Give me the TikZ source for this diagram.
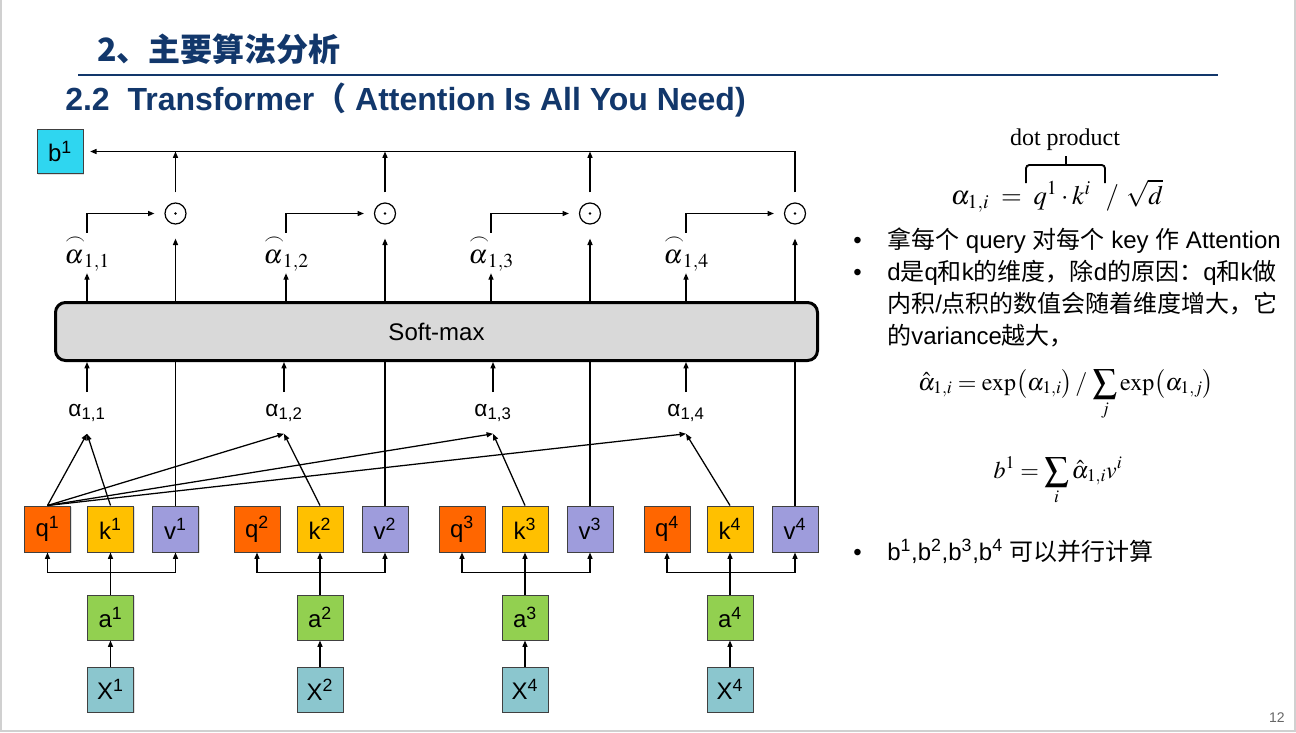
\documentclass[tikz,border=0pt]{standalone}
\usepackage{mathptmx}
\usepackage[no-math]{fontspec}
\setmainfont{Liberation Sans}
\newfontfamily\cjk{Noto Sans CJK SC}
\newfontfamily\tms{Liberation Serif}
\usetikzlibrary{arrows.meta,shadows}
\definecolor{navy}{HTML}{12376B}
\definecolor{bcol}{HTML}{2FD6F0}
\definecolor{qcol}{HTML}{FF6600}
\definecolor{kcol}{HTML}{FFC000}
\definecolor{vcol}{HTML}{9E9CDC}
\definecolor{acol}{HTML}{92D050}
\definecolor{xcol}{HTML}{8BC6CE}
\definecolor{smcol}{HTML}{D9D9D9}
\definecolor{framec}{HTML}{D0D0D0}
\newcommand\zh[1]{{\cjk #1}}
\tikzset{
  box/.style={draw=black!75, line width=0.75pt, minimum width=34.5pt, minimum height=34.5pt,
    inner sep=0pt, font=\fontsize{18}{20}\selectfont,
    drop shadow={shadow xshift=0.8pt, shadow yshift=-0.8pt, opacity=0.25}},
  arr/.style={-{Triangle[length=4.8pt,width=3.8pt]}, line width=0.95pt},
  odot/.style={circle, draw, line width=0.9pt, minimum size=15.75pt, inner sep=0pt,
    path picture={\fill (path picture bounding box.center) circle (1.1pt);}},
  alab/.style={minimum height=30.75pt, inner sep=0pt, font=\fontsize{17}{20}\selectfont},
  hlab/.style={minimum height=30pt, inner sep=0pt, font=\fontsize{20}{22}\selectfont},
  rtext/.style={anchor=base west, inner sep=0pt, font=\fontsize{18}{20}\selectfont},
}
\begin{document}
\begin{tikzpicture}[x=0.75pt,y=-0.75pt]
\useasboundingbox (0,0) rectangle (1296,732);
\draw[framec, line width=1.8pt] (1,0) -- (1,731) -- (1295,731) -- (1295,0);
% titles
\node[anchor=base west, inner sep=0pt, text=navy, font=\cjk\bfseries\fontsize{24}{28}\selectfont] (title) at (97,61) {2、主要算法分析};
\draw[navy, line width=1.5pt] (78,75) -- (1218,75);
\node[anchor=base west, inner sep=0pt, text=navy, font=\bfseries\fontsize{24}{28}\selectfont] (subtitle) at (65,110) {2.2\ \ Transformer{\cjk（} Attention Is All You Need)};
% b1
\node[box, fill=bcol, minimum height=33pt] (b1) at (60,151.5) {b\textsuperscript{1}};
% groups
\foreach \i/\qx/\xl/\ax/\hx in {1/47.5/1/87/87, 2/257/2/284/286, 3/462/4/493/491, 4/667/4/686/686} {
  \node[box, fill=qcol] (q\i) at (\qx,529) {q\textsuperscript{\i}};
  \node[box, fill=kcol] (k\i) at ({\qx+63},529) {k\textsuperscript{\i}};
  \node[box, fill=vcol] (v\i) at ({\qx+128},529) {v\textsuperscript{\i}};
  \node[box, fill=acol, minimum height=33.75pt] (a\i) at ({\qx+63},617.5) {a\textsuperscript{\i}};
  \node[box, fill=xcol, minimum height=33.75pt] (X\i) at ({\qx+63},689.5) {X\textsuperscript{\xl}};
  \node[odot] (c\i) at ({\qx+128},213.5) {};
  \node[alab] (al\i) at (\ax,413) {α\textsubscript{1,\i}};
  \node[hlab] (h\i) at (\hx,253) {${\stackrel{\frown}{\alpha}}_{1,\i}$};
  \draw[arr, shorten >=10.5pt] (v\i.north) -- (c\i.south);
}
% softmax
\node[draw, line width=2.25pt, rounded corners=7.5pt, fill=smcol, minimum width=571.5pt,
  minimum height=43.5pt, font=\fontsize{18}{20}\selectfont] (sm) at (436.5,331.5) {Soft-max};
\foreach \i in {1,...,4} {
  \draw[arr] (h\i |- sm.north) -- (h\i.south);
  \draw[arr, shorten >=7.5pt] (h\i.north) |- (c\i.west);
  \draw[arr] (al\i.north) -- (al\i.north |- sm.south);
  \draw[arr] (q1.north) -- (al\i.south);
  \draw[arr] (k\i.north) -- (al\i.south);
  \draw[arr] (a\i.north) -- (k\i.south);
  \draw[arr] (a\i.north) -- ++(0,-22) -| (q\i.south);
  \draw[arr] (a\i.north) -- ++(0,-22) -| (v\i.south);
  \draw[arr] (X\i.north) -- (a\i.south);
}
\foreach \i in {1,2,3} {
  \draw[arr, shorten <=7.5pt] (c\i.north) -- (c\i.north |- b1.east);
}
\draw[arr, shorten <=7.5pt, shorten >=5pt] (c4.north) |- (b1.east);
% right side
\node[anchor=base, inner sep=0pt, font=\tms\fontsize{18}{20}\selectfont] (dp) at (1065,145) {dot product};
\draw[line width=1.4pt, rounded corners=2.5pt] (1026,183) |- (1105,165) -- (1105,183);
\draw[line width=1.4pt] (1066,165) -- (1066,156);
\node[anchor=base, inner sep=0pt, font=\fontsize{20}{24}\selectfont] (f1) at (1057,204) {$\alpha_{1,i} \;=\; q^{1}\cdot k^{i}\ \ /\ \sqrt{d}$};
\node[rtext] (bu1) at (853,248) {•};
\node[rtext] (t1) at (887,248) {\zh{拿每个} query \zh{对每个} key \zh{作} Attention};
\node[rtext] (bu2) at (853,280) {•};
\node[rtext] (t2) at (887,280) {d\zh{是}q\zh{和}k\zh{的维度，除}d\zh{的原因：}q\zh{和}k\zh{做}};
\node[rtext] (t3) at (887,312) {\zh{内积}/\zh{点积的数值会随着维度增大，它}};
\node[rtext] (t4) at (887,344) {\zh{的}variance\zh{越大，}};
\node[anchor=base, inner sep=0pt, font=\fontsize{18}{20}\selectfont] (f2) at (1066,390) {$\displaystyle \hat{\alpha}_{1,i} = \exp\bigl(\alpha_{1,i}\bigr)\,/\,\sum_{j}\exp\bigl(\alpha_{1,j}\bigr)$};
\node[anchor=base, inner sep=0pt, font=\fontsize{18}{20}\selectfont] (f3) at (1058,478) {$\displaystyle b^{1} = \sum_{i}\hat{\alpha}_{1,i}v^{i}$};
\node[rtext] (bu3) at (853,560) {•};
\node[rtext] (t5) at (887,560) {b\textsuperscript{1},b\textsuperscript{2},b\textsuperscript{3},b\textsuperscript{4} \zh{可以并行计算}};
\node[anchor=base east, inner sep=0pt, text=black!60, font=\fontsize{10.5}{12}\selectfont] (pg) at (1285,722) {12};
\end{tikzpicture}
\end{document}
